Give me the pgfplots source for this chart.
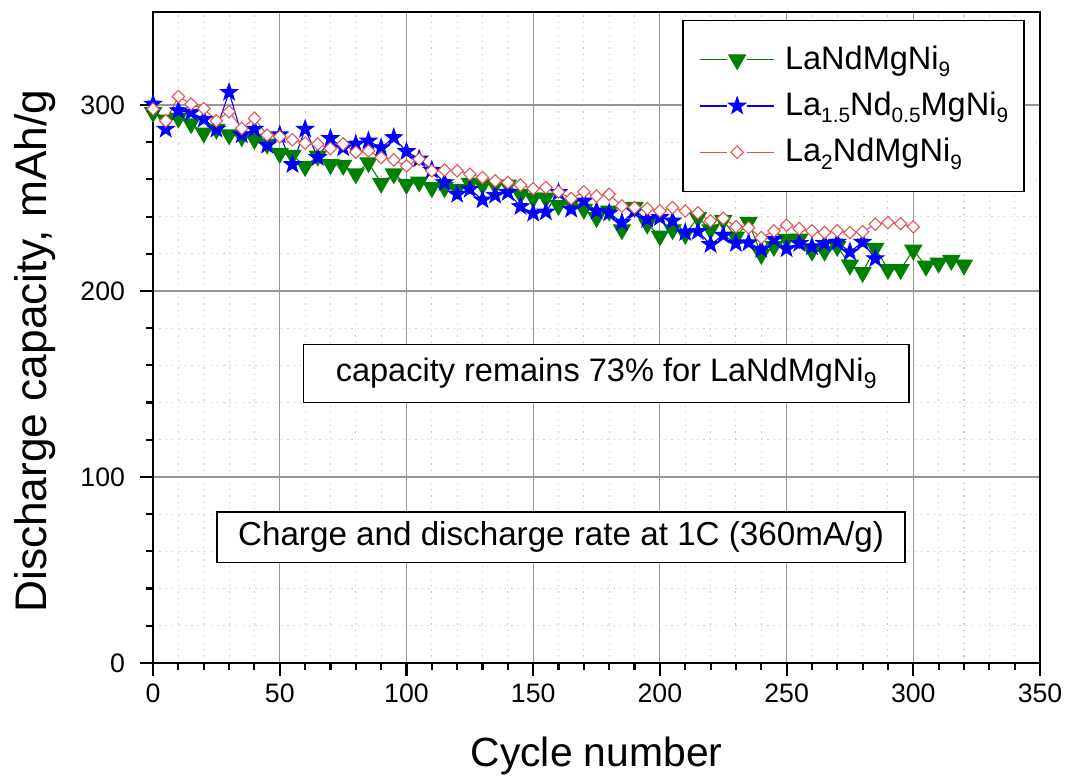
\documentclass[border=0pt]{standalone}
\usepackage{fontspec}
\setmainfont{Liberation Sans}
\usepackage{pgfplots}
\pgfplotsset{compat=1.18}
\usetikzlibrary{plotmarks}

\definecolor{cgreen}{RGB}{0,128,0}
\definecolor{cblue}{RGB}{0,0,255}
\definecolor{cred}{RGB}{228,80,80}
\definecolor{majgrid}{RGB}{150,150,150}
\definecolor{mingrid}{RGB}{200,200,200}

\pgfdeclareplotmark{fstar}{%
  \pgfpathmoveto{\pgfpointpolar{90}{\pgfplotmarksize}}%
  \pgfpathlineto{\pgfpointpolar{126}{0.4\pgfplotmarksize}}%
  \pgfpathlineto{\pgfpointpolar{162}{\pgfplotmarksize}}%
  \pgfpathlineto{\pgfpointpolar{198}{0.4\pgfplotmarksize}}%
  \pgfpathlineto{\pgfpointpolar{234}{\pgfplotmarksize}}%
  \pgfpathlineto{\pgfpointpolar{270}{0.4\pgfplotmarksize}}%
  \pgfpathlineto{\pgfpointpolar{306}{\pgfplotmarksize}}%
  \pgfpathlineto{\pgfpointpolar{342}{0.4\pgfplotmarksize}}%
  \pgfpathlineto{\pgfpointpolar{18}{\pgfplotmarksize}}%
  \pgfpathlineto{\pgfpointpolar{54}{0.4\pgfplotmarksize}}%
  \pgfpathclose
  \pgfusepathqfillstroke
}

\newcommand{\sub}[1]{\raisebox{-0.42ex}{\fontsize{8.6}{10}\selectfont #1}}
\newcommand{\lsub}[1]{\raisebox{-0.42ex}{\fontsize{7.8}{9}\selectfont #1}}

\pgfplotstableread{
x y
0 296
5 292
10 293
15 290
20 285
25 287
30 284
35 283
40 281.6
45 279
50 274
55 273
60 267
65 272.6
70 268
75 267.6
80 263
85 269
90 258
95 263
100 257.4
105 258.6
110 255.6
115 255.6
120 254.7
125 258
130 257
135 257
140 257
145 252
150 250
155 250
160 246
165 247
170 244
175 239.5
180 243
185 233
190 245
195 236
200 229.6
205 233
210 230.5
215 239.5
220 233
225 238
230 229
235 237
240 219.7
245 224
250 227.8
255 228
260 221.5
265 221.5
270 224
275 214
280 210
285 223
290 211.6
295 211.6
300 222
305 213.4
310 215
315 216.5
320 214
}\greendata

\pgfplotstableread{
x y
0 300.5
5 287
10 297
15 296
20 292.4
25 287
30 306.8
35 284
40 287
45 278.4
50 284
55 268
60 287
65 271.8
70 282
75 277
80 279
85 280.7
90 277
95 282.5
100 275
105 271
110 265
115 258.3
120 252
125 254.7
130 249
135 251.5
140 253
145 245.4
150 241.8
155 242.5
160 253
165 244
170 248.4
175 243
180 242
185 236.8
190 243
195 238.5
200 239.5
205 237.7
210 231.4
215 232
220 225
225 230
230 225.6
235 226
240 222.4
245 227.8
250 222.7
255 225.6
260 223.8
265 225.6
270 226.3
275 221
280 226.3
285 217.4
}\bluedata

\pgfplotstableread{
x y
0 297.8
5 291.5
10 304.6
15 300.5
20 298
25 291.5
30 296.4
35 287.4
40 292.8
45 283.8
50 283
55 281.3
60 279.5
65 279
70 276.6
75 279
80 274.6
85 275.3
90 271.7
95 270.5
100 267.3
105 270.9
110 264.6
115 265
120 264.6
125 262.8
130 261
135 259.2
140 258.3
145 256.9
150 255
155 255.6
160 253.3
165 249.7
170 253.3
175 251
180 252
185 245.7
190 244.8
195 244.3
200 243
205 244.8
210 243
215 242
220 237.7
225 239
230 234.6
235 234
240 228.7
245 232.3
250 235.3
255 233.5
260 232.3
265 231.4
270 232.3
275 231.4
280 231.8
285 235.9
290 236.8
295 236.2
300 234.5
}\reddata

\begin{document}
\begin{tikzpicture}
\begin{axis}[
  scale only axis, width=332.6pt, height=244.1pt,
  xmin=0, xmax=350, ymin=0, ymax=350,
  xtick={0,50,...,350}, ytick={0,100,200,300},
  minor x tick num=4, minor y tick num=4,
  grid=both,
  major grid style={draw=majgrid, line width=0.45pt},
  minor grid style={draw=mingrid, dotted, line width=0.4pt},
  axis line style={line width=0.95pt},
  tick align=outside, tick pos=left,
  major tick length=5pt, minor tick length=2.6pt,
  every tick/.style={black, line width=0.8pt},
  xticklabel style={font=\fontsize{10}{12}\selectfont, yshift=0.5pt},
  yticklabel style={font=\fontsize{10}{12}\selectfont, xshift=-2pt},
  xlabel={Cycle number}, ylabel={Discharge capacity, mAh/g},
  every axis x label/.style={at={(axis description cs:0.5,0)}, yshift=-35pt, anchor=center,
    font=\fontsize{15.3}{18}\selectfont},
  every axis y label/.style={at={(axis description cs:-0.133,0.479)}, anchor=center, rotate=90,
    font=\fontsize{16.6}{19}\selectfont},
  legend style={at={(rel axis cs:0.983,0.988)}, anchor=north east, draw=black, line width=0.6pt,
    font=\fontsize{12.2}{14}\selectfont, row sep=3pt, inner xsep=4pt, inner ysep=7.5pt,
    fill=white},
  legend cell align=left,
  legend image code/.code={
    \path (0pt,0pt);
    \draw[#1, mark=none] (2.3pt,0pt) -- (12.3pt,0pt);
    \draw[#1, mark=none] (19.8pt,0pt) -- (29.8pt,0pt);
    \draw[#1] plot[only marks] coordinates {(16.05pt,0pt)};
    \path (31.8pt,0pt);
  },
  /pgf/number format/assume math mode=true,
]
\addplot[cgreen, line width=0.4pt, mark=triangle*, mark size=3.6pt,
  mark options={rotate=180, fill=cgreen, draw=cgreen, solid}] table[x=x,y=y] {\greendata};
\addlegendentry{LaNdMgNi\lsub{9}}
\addplot[cblue, line width=0.4pt, mark=fstar, mark size=3.3pt,
  mark options={fill=cblue, draw=cblue, solid}] table[x=x,y=y] {\bluedata};
\addlegendentry{La\lsub{1.5}Nd\lsub{0.5}MgNi\lsub{9}}
\addplot[cred, line width=0.4pt, mark=square*, mark size=1.65pt,
  mark options={rotate=45, fill=white, draw=cred, solid}] table[x=x,y=y] {\reddata};
\addlegendentry{La\lsub{2}NdMgNi\lsub{9}}

\node[draw=black, fill=white, line width=0.5pt, minimum width=227pt, minimum height=21.75pt,
  inner sep=0pt, font=\fontsize{12.2}{14}\selectfont] at (axis cs:178.8,155.6)
  {capacity remains 73\% for LaNdMgNi\sub{9}};
\node[draw=black, fill=white, line width=0.5pt, minimum width=258pt, minimum height=19pt,
  inner sep=0pt, font=\fontsize{12.45}{14}\selectfont] at (axis cs:161,67.6)
  {Charge and discharge rate at 1C (360mA/g)};
\coordinate (ll) at (rel axis cs:0,0);
\coordinate (ur) at (rel axis cs:1,1);
\end{axis}
\pgfresetboundingbox
\path ([shift={(-57.4pt,-43.1pt)}]ll) rectangle ([shift={(10.5pt,4.5pt)}]ur);
\end{tikzpicture}
\end{document}
